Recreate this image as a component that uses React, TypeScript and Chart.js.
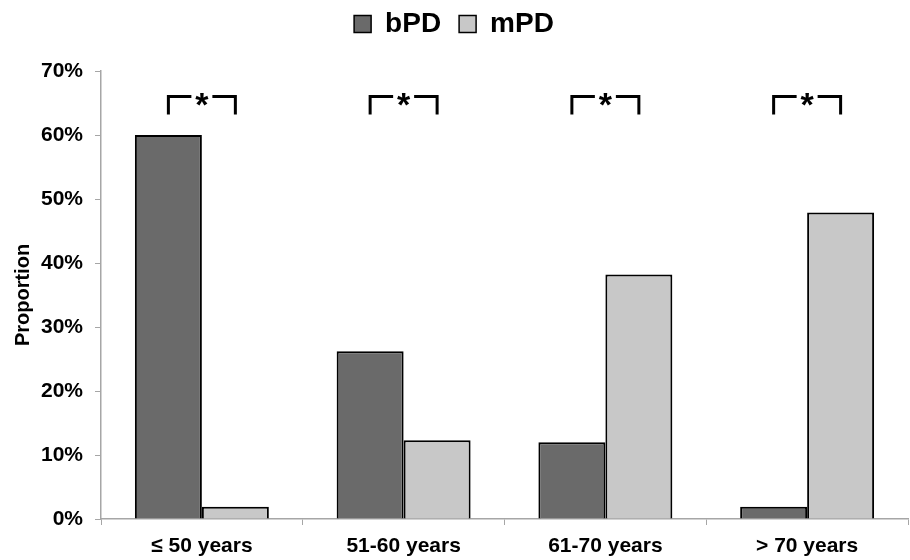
import React, { useEffect, useRef } from "react";
import { Chart, registerables } from "chart.js";

Chart.register(...registerables);

const categories = ["≤ 50 years", "51-60 years", "61-70 years", "> 70 years"];
const bPD = [60, 26.2, 12, 1.9];
const mPD = [1.9, 12.3, 38.2, 47.9];
const significance = ["*", "*", "*", "*"];
const yTicks = [0, 10, 20, 30, 40, 50, 60, 70];

const FONT = "'Liberation Sans', Arial, sans-serif";

const legendSpacing = {
  id: "legendSpacing",
  beforeInit(chart: any) {
    const legend = chart.legend;
    if (!legend) return;
    const orig = legend.fit;
    legend.fit = function () {
      orig.call(this);
      this.height += 23;
    };
  },
};

const bracketPlugin = {
  id: "brackets",
  afterDatasetsDraw(chart: any) {
    const ctx = chart.ctx;
    const y = chart.scales.y;
    const m0 = chart.getDatasetMeta(0);
    const m1 = chart.getDatasetMeta(1);
    const topY = y.getPixelForValue(66);
    const endY = y.getPixelForValue(63.2);
    ctx.save();
    ctx.strokeStyle = "#000";
    ctx.lineWidth = 3;
    ctx.lineCap = "butt";
    significance.forEach((s, i) => {
      const x0 = m0.data[i].x;
      const x1 = m1.data[i].x;
      const cx = (x0 + x1) / 2;
      const gap = 10.5;
      ctx.beginPath();
      ctx.moveTo(x0, endY);
      ctx.lineTo(x0, topY);
      ctx.lineTo(cx - gap, topY);
      ctx.moveTo(cx + gap, topY);
      ctx.lineTo(x1, topY);
      ctx.lineTo(x1, endY);
      ctx.stroke();
      ctx.fillStyle = "#000";
      ctx.font = `bold 34px ${FONT}`;
      ctx.textAlign = "center";
      ctx.textBaseline = "alphabetic";
      ctx.fillText(s, cx, topY + 19);
    });
    ctx.restore();
  },
};

export default function App() {
  const ref = useRef<HTMLCanvasElement>(null);
  useEffect(() => {
    document.body.style.margin = "0";
    const chart = new Chart(ref.current!, {
      type: "bar",
      data: {
        labels: categories,
        datasets: [
          {
            label: "bPD",
            data: bPD,
            backgroundColor: "#6a6a6a",
            borderColor: "#000",
            borderWidth: 2,
            borderSkipped: "bottom",
          },
          {
            label: "mPD",
            data: mPD,
            backgroundColor: "#c8c8c8",
            borderColor: "#000",
            borderWidth: 2,
            borderSkipped: "bottom",
          },
        ],
      },
      options: {
        animation: false,
        responsive: false,
        maintainAspectRatio: false,
        devicePixelRatio: 1,
        layout: { padding: { top: -8, right: 2, left: 0, bottom: 0 } },
        datasets: {
          bar: { categoryPercentage: 0.664, barPercentage: 1 },
        },
        plugins: {
          tooltip: { enabled: false },
          legend: {
            position: "top",
            labels: {
              color: "#000",
              font: { family: FONT, size: 28, weight: "bold" },
              boxWidth: 17,
              boxHeight: 17,
              padding: 18,
              generateLabels: (chart: any) =>
                chart.data.datasets.map((d: any, i: number) => ({
                  text: d.label,
                  fillStyle: d.backgroundColor,
                  strokeStyle: "#000",
                  lineWidth: 1.5,
                  datasetIndex: i,
                  hidden: false,
                })),
            },
          },
        },
        scales: {
          x: {
            afterFit: (s: any) => {
              s.height = 41;
            },
            grid: {
              display: true,
              drawOnChartArea: false,
              drawTicks: true,
              tickLength: 6,
              color: "#a6a6a6",
              offset: true,
            },
            border: { color: "#a6a6a6", width: 1.5 },
            ticks: {
              color: "#000",
              padding: 9,
              font: { family: FONT, size: 21, weight: "bold" },
            },
          },
          y: {
            min: 0,
            max: 70,
            afterFit: (s: any) => {
              s.width = 101;
            },
            afterBuildTicks: (s: any) => {
              s.ticks = yTicks.map((v) => ({ value: v }));
            },
            grid: {
              display: true,
              drawOnChartArea: false,
              drawTicks: true,
              tickLength: 6,
              color: "#a6a6a6",
            },
            border: { color: "#a6a6a6", width: 1.5 },
            ticks: {
              color: "#000",
              padding: 12,
              font: { family: FONT, size: 21, weight: "bold" },
              callback: (v: any) => `${v}%`,
            },
            title: {
              display: true,
              text: "Proportion",
              color: "#000",
              font: { family: FONT, size: 20, weight: "bold" },
              padding: { top: 11, bottom: 0 },
            },
          },
        },
      },
      plugins: [bracketPlugin, legendSpacing],
    });
    return () => chart.destroy();
  }, []);
  return (
    <div style={{ width: 910, height: 560 }}>
      <canvas ref={ref} width={910} height={560} style={{ display: "block" }} />
    </div>
  );
}
